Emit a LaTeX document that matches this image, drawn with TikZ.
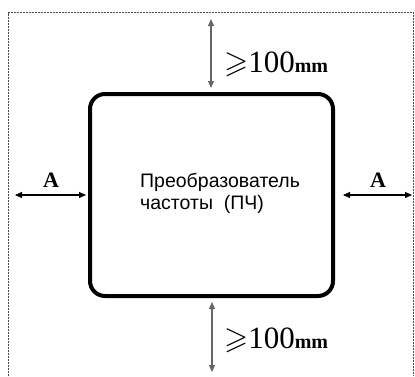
\documentclass[tikz,border=0pt]{standalone}
\usepackage{amssymb}
\usepackage{fontspec}
\setmainfont{Liberation Serif}
\newfontfamily\labelsans{Liberation Sans}
\usetikzlibrary{arrows.meta}
\begin{document}
\begin{tikzpicture}[x=1pt,y=-1pt,
  dimarrow/.style={{Triangle[length=7pt,width=6pt]}-{Triangle[length=7pt,width=6pt]}, line width=1.1pt},
  framestyle/.style={line width=0.6pt, black!70, dash pattern=on 2pt off 1pt},
  dimlabel/.style={anchor=base west, inner sep=0pt, font=\fontsize{31}{31}\selectfont},
  alabel/.style={anchor=base, inner sep=0pt, font=\bfseries\fontsize{22}{22}\selectfont}]
\useasboundingbox (0,0) rectangle (415,376);
% frame
\draw[framestyle] (8,376) -- (8,12.5) -- (413,12.5) -- (413,376);
% box
\node[draw, line width=4pt, rounded corners=15pt, minimum width=243pt, minimum height=202pt, inner sep=0pt] (box) at (211.5,195) {};
\node[anchor=base west, align=left, inner sep=0pt, font=\labelsans\fontsize{19.5}{22}\selectfont] (txt) at (140,209)
  {Преобразователь\\частоты\ \ (ПЧ)};
% top arrow
\coordinate (ttop) at (211,19);
\coordinate (tbot) at (211,88);
\draw[dimarrow, black!60] (ttop) -- (tbot);
\node[dimlabel] (tl) at (224,72) {$\geqslant$100{\bfseries\fontsize{20}{20}\selectfont mm}};
% bottom arrow
\coordinate (btop) at (212,302);
\coordinate (bbot) at (212,372);
\draw[dimarrow, black!60] (btop) -- (bbot);
\node[dimlabel] (bl) at (224,348) {$\geqslant$100{\bfseries\fontsize{20}{20}\selectfont mm}};
% left arrow
\coordinate (lft) at (15,195);
\coordinate (lftr) at (86,195);
\draw[dimarrow] (lft) -- (lftr);
\node[alabel] (al) at (51,187) {A};
% right arrow
\coordinate (rgtl) at (343,195);
\coordinate (rgt) at (412,195);
\draw[dimarrow] (rgtl) -- (rgt);
\node[alabel] (ar) at (378,187) {A};
\end{tikzpicture}
\end{document}
